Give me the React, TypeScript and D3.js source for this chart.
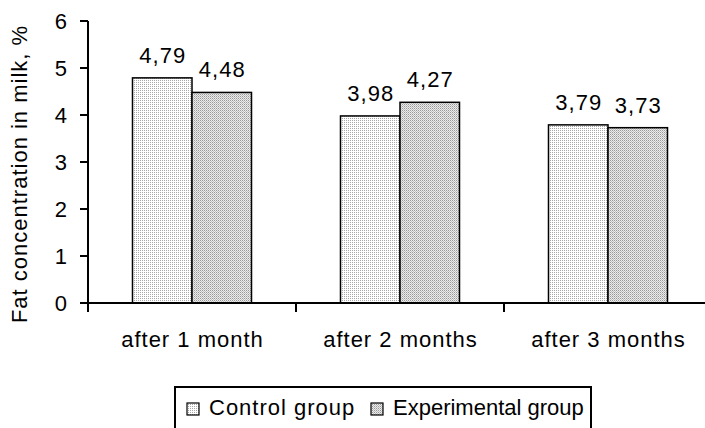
import React from "react";
import * as d3 from "d3";

const categories = ["after 1 month", "after 2 months", "after 3 months"];
const seriesNames = ["Control group", "Experimental group"];
const controlValues = [4.79, 3.98, 3.79];
const experimentalValues = [4.48, 4.27, 3.73];
const yTicks = [0, 1, 2, 3, 4, 5, 6];
const yTitle = "Fat concentration in milk, %";

const W = 705;
const H = 428;
const FONT = "'Liberation Sans', Arial, Helvetica, sans-serif";
const FS = 22;
const LS = 1;

export default function App() {
  const left = 88;
  const x = d3.scaleBand<string>().domain(categories).range([left, 712]).paddingInner(0).paddingOuter(0);
  const y = d3.scaleLinear().domain([0, 6]).range([303, 21]);
  const groupW = 119;
  const x1 = d3.scaleBand<string>().domain(seriesNames).range([0, groupW]).padding(0);
  const offset = (x.bandwidth() - groupW) / 2;
  const seriesData = [controlValues, experimentalValues];
  const fills = ["url(#patCtrl)", "url(#patExp)"];
  const fmt = (v: number) => v.toFixed(2).replace(".", ",");
  const catTicks = [...categories.map((c) => x(c)!), 712];
  const legendX = [187, 371];
  const legendLS = [1, 0];

  return (
    <div style={{ position: "absolute", left: 0, top: 0 }}>
      <svg width={W} height={H} style={{ display: "block", background: "#fff" }} fontFamily={FONT}>
        <defs>
          <pattern id="patCtrl" width="2" height="2" patternUnits="userSpaceOnUse">
            <rect width="2" height="2" fill="#fff" />
            <rect width="1" height="1" fill="#a8a8a8" />
          </pattern>
          <pattern id="patExp" width="2" height="2" patternUnits="userSpaceOnUse">
            <rect width="2" height="2" fill="#ebebeb" />
            <rect width="1" height="1" fill="#999" />
            <rect x="1" y="1" width="1" height="1" fill="#c0c0c0" />
          </pattern>
        </defs>
        <rect width={W} height={H} fill="#fff" />

        {/* bars */}
        {categories.map((c, ci) =>
          seriesNames.map((s, si) => {
            const v = seriesData[si][ci];
            const bx = x(c)! + offset + x1(s)!;
            return (
              <g key={c + s}>
                <rect
                  x={bx}
                  y={y(v)}
                  width={x1.bandwidth()}
                  height={y(0) - y(v)}
                  fill={fills[si]}
                  stroke="#000"
                  strokeWidth={1.5}
                />
                <text
                  x={bx + x1.bandwidth() / 2 + LS / 2}
                  y={y(v) - 15}
                  textAnchor="middle"
                  fontSize={FS}
                  letterSpacing={LS}
                  fill="#000"
                >
                  {fmt(v)}
                </text>
              </g>
            );
          })
        )}

        {/* y axis */}
        <line x1={left} x2={left} y1={y(6)} y2={312} stroke="#000" strokeWidth={2} />
        {yTicks.map((t) => (
          <g key={t}>
            <line x1={80} x2={left} y1={y(t)} y2={y(t)} stroke="#000" strokeWidth={2} />
            <text x={67} y={y(t) + 8} textAnchor="end" fontSize={FS} fill="#000">
              {t}
            </text>
          </g>
        ))}
        <text
          transform={`translate(27,${(y(0) + y(6)) / 2 + 12}) rotate(-90)`}
          textAnchor="middle"
          fontSize={FS}
          letterSpacing={LS}
          fill="#000"
        >
          {yTitle}
        </text>

        {/* x axis */}
        <line x1={80} x2={W} y1={y(0)} y2={y(0)} stroke="#000" strokeWidth={2} />
        {catTicks.map((tx, i) => (
          <line key={i} x1={tx} x2={tx} y1={y(0)} y2={312} stroke="#000" strokeWidth={2} />
        ))}
        {categories.map((c) => (
          <text
            key={c}
            x={x(c)! + x.bandwidth() / 2 + LS / 2}
            y={347}
            textAnchor="middle"
            fontSize={FS}
            letterSpacing={LS}
            fill="#000"
          >
            {c}
          </text>
        ))}

        {/* legend */}
        <rect x={175} y={387} width={416} height={60} fill="#fff" stroke="#000" strokeWidth={2} />
        {seriesNames.map((s, i) => {
          const sx = legendX[i];
          return (
            <g key={s}>
              <rect x={sx} y={403} width={12} height={12} fill={fills[i]} stroke="#000" strokeWidth={1.2} />
              <text x={sx + 22} y={415} fontSize={FS} letterSpacing={legendLS[i]} fill="#000">
                {s}
              </text>
            </g>
          );
        })}
      </svg>
    </div>
  );
}
